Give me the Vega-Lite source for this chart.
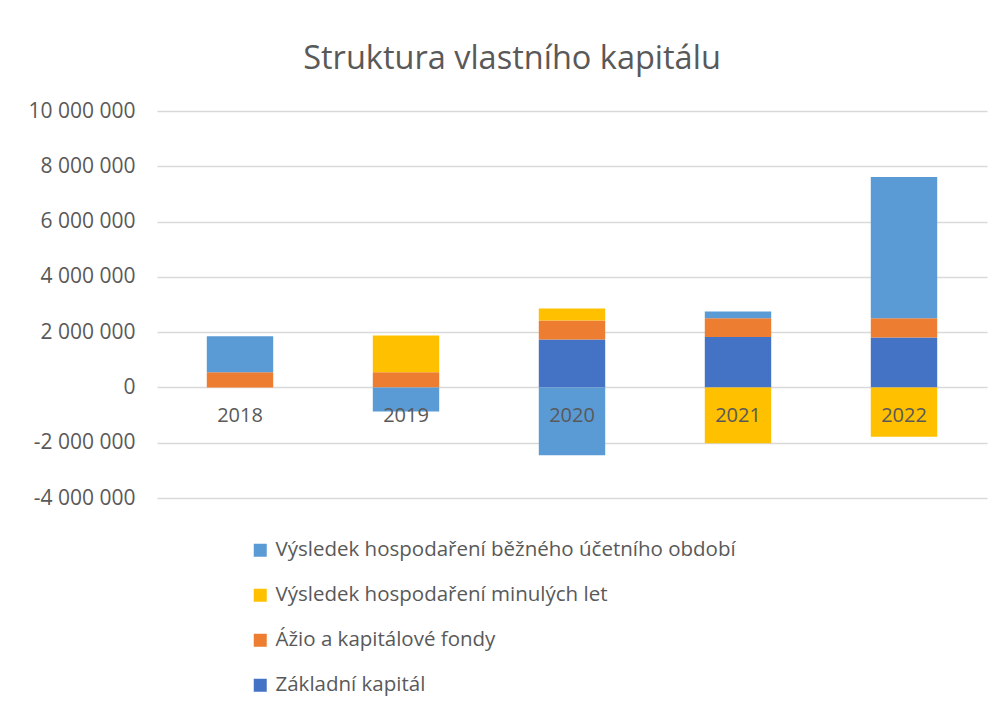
{
  "$schema": "https://vega.github.io/schema/vega-lite/v6.json",
  "autosize": "none",
  "width": 830,
  "height": 387,
  "padding": {"left": 157, "top": 111, "right": 18, "bottom": 215},
  "background": "white",
  "title": {
    "text": "Struktura vlastního kapitálu",
    "fontSize": 32.5,
    "font": "Open Sans",
    "fontWeight": "normal",
    "color": "#595959",
    "anchor": "middle",
    "dx": -60,
    "offset": 25
  },
  "config": {
    "locale": {
      "number": {"decimal": ",", "thousands": " ", "grouping": [3], "currency": ["", " Kč"], "minus": "-"}
    },
    "view": {"stroke": null},
    "font": "Open Sans"
  },
  "data": {
    "values": [
      {"rok": "2018", "polozka": "Ážio a kapitálové fondy", "poradi": 2, "hodnota": 550000},
      {"rok": "2018", "polozka": "Výsledek hospodaření běžného účetního období", "poradi": 4, "hodnota": 1300000},
      {"rok": "2019", "polozka": "Ážio a kapitálové fondy", "poradi": 2, "hodnota": 550000},
      {"rok": "2019", "polozka": "Výsledek hospodaření minulých let", "poradi": 3, "hodnota": 1330000},
      {"rok": "2019", "polozka": "Výsledek hospodaření běžného účetního období", "poradi": 4, "hodnota": -870000},
      {"rok": "2020", "polozka": "Základní kapitál", "poradi": 1, "hodnota": 1735000},
      {"rok": "2020", "polozka": "Ážio a kapitálové fondy", "poradi": 2, "hodnota": 685000},
      {"rok": "2020", "polozka": "Výsledek hospodaření minulých let", "poradi": 3, "hodnota": 435000},
      {"rok": "2020", "polozka": "Výsledek hospodaření běžného účetního období", "poradi": 4, "hodnota": -2450000},
      {"rok": "2021", "polozka": "Základní kapitál", "poradi": 1, "hodnota": 1820000},
      {"rok": "2021", "polozka": "Ážio a kapitálové fondy", "poradi": 2, "hodnota": 685000},
      {"rok": "2021", "polozka": "Výsledek hospodaření minulých let", "poradi": 3, "hodnota": -2020000},
      {"rok": "2021", "polozka": "Výsledek hospodaření běžného účetního období", "poradi": 4, "hodnota": 245000},
      {"rok": "2022", "polozka": "Základní kapitál", "poradi": 1, "hodnota": 1810000},
      {"rok": "2022", "polozka": "Ážio a kapitálové fondy", "poradi": 2, "hodnota": 695000},
      {"rok": "2022", "polozka": "Výsledek hospodaření minulých let", "poradi": 3, "hodnota": -1780000},
      {"rok": "2022", "polozka": "Výsledek hospodaření běžného účetního období", "poradi": 4, "hodnota": 5105000}
    ]
  },
  "mark": {"type": "bar"},
  "encoding": {
    "x": {
      "field": "rok",
      "type": "nominal",
      "scale": {"paddingInner": 0.6, "paddingOuter": 0.3},
      "axis": {
        "title": null,
        "labelAngle": 0,
        "labelFontSize": 20,
        "labelColor": "#595959",
        "labelPadding": 18,
        "domain": false,
        "ticks": false,
        "offset": -110.6,
        "zindex": 1
      }
    },
    "y": {
      "field": "hodnota",
      "type": "quantitative",
      "stack": "zero",
      "scale": {"domain": [-4000000, 10000000], "nice": false},
      "axis": {
        "title": null,
        "values": [-4000000, -2000000, 0, 2000000, 4000000, 6000000, 8000000, 10000000],
        "format": ",d",
        "labelFontSize": 21,
        "labelColor": "#595959",
        "labelPadding": 22,
        "domain": false,
        "ticks": false,
        "gridColor": "#D9D9D9",
        "gridWidth": 1.5
      }
    },
    "color": {
      "field": "polozka",
      "type": "nominal",
      "scale": {
        "domain": ["Výsledek hospodaření běžného účetního období", "Výsledek hospodaření minulých let", "Ážio a kapitálové fondy", "Základní kapitál"],
        "range": ["#5B9BD5", "#FFC000", "#ED7D31", "#4472C4"]
      },
      "legend": {
        "title": null,
        "orient": "none",
        "legendX": 93,
        "legendY": 429,
        "direction": "vertical",
        "symbolType": "square",
        "symbolSize": 169,
        "symbolStrokeWidth": 0,
        "labelFontSize": 20.5,
        "labelColor": "#595959",
        "labelLimit": 800,
        "rowPadding": 24,
        "labelOffset": 5
      }
    },
    "order": {"field": "poradi", "type": "quantitative", "sort": "ascending"}
  }
}
